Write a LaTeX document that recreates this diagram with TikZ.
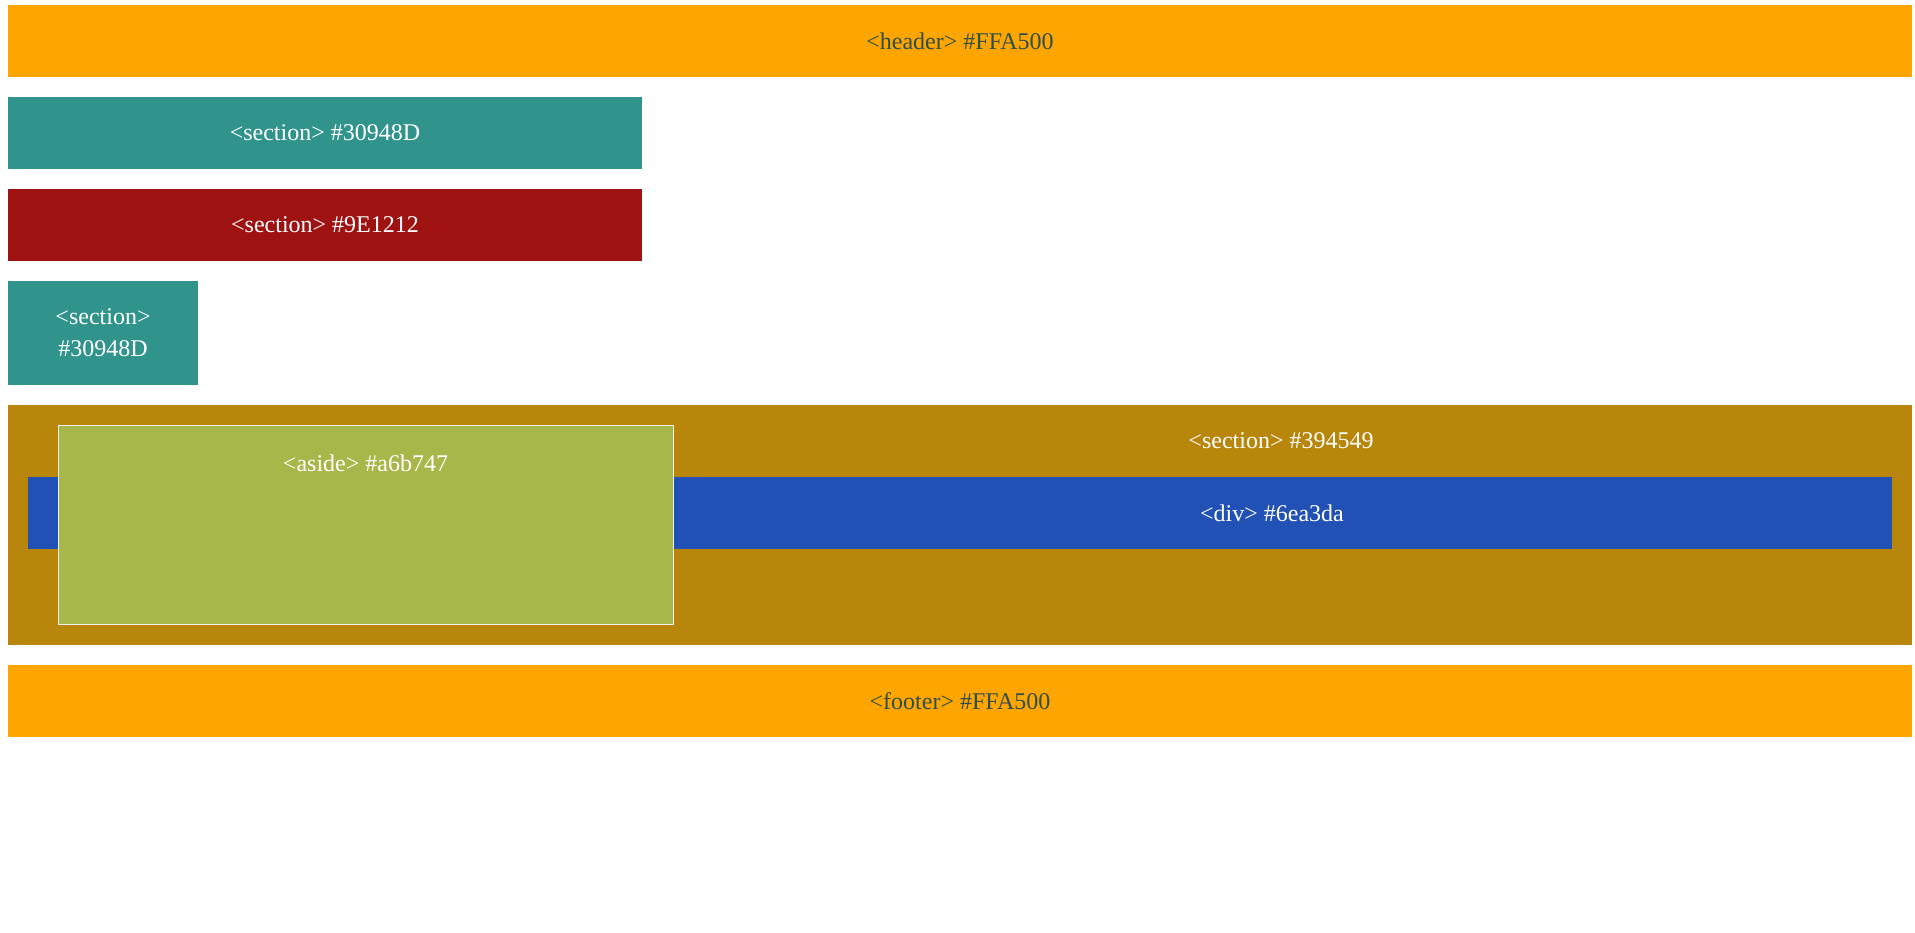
\documentclass[tikz,border=0pt]{standalone}
\usepackage{fontspec}
\setmainfont{Liberation Serif}
\usetikzlibrary{positioning}

\definecolor{bandorange}{HTML}{FFA500}
\definecolor{secteal}{HTML}{30948D}
\definecolor{secred}{HTML}{9E1212}
\definecolor{secgold}{HTML}{B8860B}
\definecolor{divblue}{HTML}{2251B5}
\definecolor{asidegreen}{HTML}{A8B749}
\definecolor{darktext}{HTML}{2F4F4F}

\begin{document}
\begin{tikzpicture}[
    x=0.75pt, y=-0.75pt,
    node distance=15pt,
    block/.style = {rectangle, inner sep=0pt, outer sep=0pt,
                    anchor=north west, text=white, align=center,
                    font=\fontsize{18pt}{24pt}\selectfont},
    wideblock/.style = {block, minimum width=1428pt, minimum height=54pt},
    halfblock/.style = {block, minimum width=475.5pt, minimum height=54pt},
    tag/.style = {inner sep=0pt, text=white,
                  font=\fontsize{18pt}{24pt}\selectfont}
]
    \useasboundingbox[fill=white] (0,0) rectangle (1915,932);

    \node[wideblock, fill=bandorange, text=darktext] (HD) at (8,5) {<header> \#FFA500};
    \node[halfblock, fill=secteal] (S1) [below=of HD.south west, anchor=north west] {<section> \#30948D};
    \node[halfblock, fill=secred] (S2) [below=of S1.south west, anchor=north west] {<section> \#9E1212};
    \node[block, fill=secteal, minimum width=142.5pt, minimum height=78pt] (S3)
        [below=of S2.south west, anchor=north west] {<section>\\\#30948D};
    \node[block, fill=secgold, minimum width=1428pt, minimum height=180pt] (SC)
        [below=of S3.south west, anchor=north west] {};
    \node[wideblock, fill=divblue, minimum width=1398pt] (DV) at (28,477) {};
    \node[block, fill=asidegreen, draw=white!94!black, line width=0.75pt,
          minimum width=461.25pt, minimum height=149.25pt] (AS) at (58,425) {};
    \node[wideblock, fill=bandorange, text=darktext] (FT) [below=of SC.south west, anchor=north west] {<footer> \#FFA500};

    \node[tag] (SCtag) at (1281,441) {<section> \#394549};
    \node[tag] (DVtag) at (1272,513) {<div> \#6ea3da};
    \node[tag] (AStag) at ([yshift=-28.5pt]AS.north) {<aside> \#a6b747};

\end{tikzpicture}
\end{document}
